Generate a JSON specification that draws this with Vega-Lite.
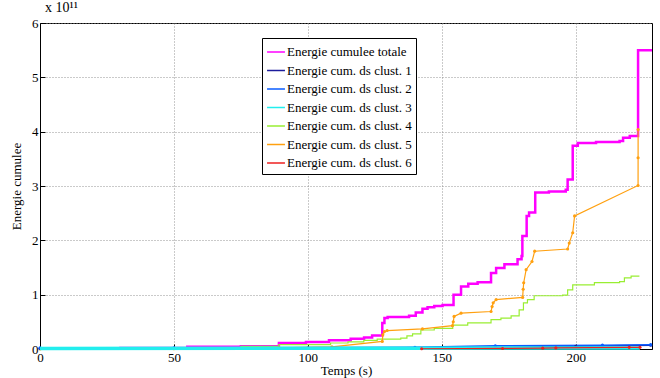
{
  "$schema": "https://vega.github.io/schema/vega-lite/v6.json",
  "autosize": {"type": "none"},
  "width": 612,
  "height": 326,
  "padding": {"left": 40, "top": 23, "right": 8, "bottom": 29},
  "background": "white",
  "title": {"text": "x 10¹¹", "anchor": "start", "frame": "group", "font": "Liberation Serif", "fontSize": 14, "fontWeight": "normal", "color": "black", "offset": 2, "dx": 5},
  "config": {
    "view": {"stroke": "black", "strokeWidth": 1},
    "axis": {
      "domainColor": "black", "tickColor": "black", "labelColor": "black", "titleColor": "black",
      "labelFont": "Liberation Serif", "labelFontSize": 13, "titleFont": "Liberation Serif", "titleFontSize": 13, "titleFontWeight": "normal",
      "grid": true, "gridDash": [1, 2], "gridColor": "#8a8a8a", "gridOpacity": 0.9, "tickSize": -5
    },
    "legend": {
      "orient": "none", "legendX": 222, "legendY": 15, "strokeColor": "black", "fillColor": "white",
      "padding": 4, "rowPadding": 1.5, "labelFont": "Liberation Serif", "labelFontSize": 13, "labelColor": "black",
      "symbolType": "stroke", "symbolSize": 320, "symbolStrokeWidth": 1.5, "labelOffset": 1
    }
  },
  "datasets": {
    "total": [
      {"serie": "Energie cumulee totale", "t": 0, "e": 0.01},
      {"serie": "Energie cumulee totale", "t": 30, "e": 0.02},
      {"serie": "Energie cumulee totale", "t": 55, "e": 0.04},
      {"serie": "Energie cumulee totale", "t": 75, "e": 0.05},
      {"serie": "Energie cumulee totale", "t": 89.2, "e": 0.11},
      {"serie": "Energie cumulee totale", "t": 99.3, "e": 0.13},
      {"serie": "Energie cumulee totale", "t": 107.9, "e": 0.16},
      {"serie": "Energie cumulee totale", "t": 116, "e": 0.19},
      {"serie": "Energie cumulee totale", "t": 121, "e": 0.21},
      {"serie": "Energie cumulee totale", "t": 124, "e": 0.25},
      {"serie": "Energie cumulee totale", "t": 127.8, "e": 0.48},
      {"serie": "Energie cumulee totale", "t": 128.6, "e": 0.57},
      {"serie": "Energie cumulee totale", "t": 129.8, "e": 0.59},
      {"serie": "Energie cumulee totale", "t": 137.8, "e": 0.61},
      {"serie": "Energie cumulee totale", "t": 140.3, "e": 0.67},
      {"serie": "Energie cumulee totale", "t": 142.8, "e": 0.74},
      {"serie": "Energie cumulee totale", "t": 144.7, "e": 0.77},
      {"serie": "Energie cumulee totale", "t": 147.2, "e": 0.79},
      {"serie": "Energie cumulee totale", "t": 150.3, "e": 0.81},
      {"serie": "Energie cumulee totale", "t": 154.4, "e": 1.0},
      {"serie": "Energie cumulee totale", "t": 157.2, "e": 1.15},
      {"serie": "Energie cumulee totale", "t": 159.9, "e": 1.2},
      {"serie": "Energie cumulee totale", "t": 163.4, "e": 1.23},
      {"serie": "Energie cumulee totale", "t": 168.4, "e": 1.4},
      {"serie": "Energie cumulee totale", "t": 170.3, "e": 1.49},
      {"serie": "Energie cumulee totale", "t": 173.4, "e": 1.56},
      {"serie": "Energie cumulee totale", "t": 178.3, "e": 1.65},
      {"serie": "Energie cumulee totale", "t": 179.8, "e": 1.71},
      {"serie": "Energie cumulee totale", "t": 180.1, "e": 2.08},
      {"serie": "Energie cumulee totale", "t": 181.7, "e": 2.45},
      {"serie": "Energie cumulee totale", "t": 182.6, "e": 2.51},
      {"serie": "Energie cumulee totale", "t": 184.9, "e": 2.88},
      {"serie": "Energie cumulee totale", "t": 190, "e": 2.9},
      {"serie": "Energie cumulee totale", "t": 196.3, "e": 2.93},
      {"serie": "Energie cumulee totale", "t": 197.0, "e": 3.12},
      {"serie": "Energie cumulee totale", "t": 198.9, "e": 3.74},
      {"serie": "Energie cumulee totale", "t": 200.8, "e": 3.79},
      {"serie": "Energie cumulee totale", "t": 207.6, "e": 3.81},
      {"serie": "Energie cumulee totale", "t": 216.4, "e": 3.83},
      {"serie": "Energie cumulee totale", "t": 217.7, "e": 3.89},
      {"serie": "Energie cumulee totale", "t": 220.2, "e": 3.92},
      {"serie": "Energie cumulee totale", "t": 223.3, "e": 5.5},
      {"serie": "Energie cumulee totale", "t": 228.5, "e": 5.5}
    ],
    "c4": [
      {"serie": "Energie cum. ds clust. 4", "t": 0, "e": 0.0},
      {"serie": "Energie cum. ds clust. 4", "t": 58, "e": 0.02},
      {"serie": "Energie cum. ds clust. 4", "t": 75, "e": 0.05},
      {"serie": "Energie cum. ds clust. 4", "t": 89.2, "e": 0.08},
      {"serie": "Energie cum. ds clust. 4", "t": 108.5, "e": 0.11},
      {"serie": "Energie cum. ds clust. 4", "t": 115, "e": 0.13},
      {"serie": "Energie cum. ds clust. 4", "t": 120.9, "e": 0.16},
      {"serie": "Energie cum. ds clust. 4", "t": 125.9, "e": 0.18},
      {"serie": "Energie cum. ds clust. 4", "t": 134.7, "e": 0.2},
      {"serie": "Energie cum. ds clust. 4", "t": 137, "e": 0.24},
      {"serie": "Energie cum. ds clust. 4", "t": 139.1, "e": 0.28},
      {"serie": "Energie cum. ds clust. 4", "t": 142.2, "e": 0.35},
      {"serie": "Energie cum. ds clust. 4", "t": 147.2, "e": 0.38},
      {"serie": "Energie cum. ds clust. 4", "t": 154.1, "e": 0.44},
      {"serie": "Energie cum. ds clust. 4", "t": 159.7, "e": 0.48},
      {"serie": "Energie cum. ds clust. 4", "t": 168.4, "e": 0.54},
      {"serie": "Energie cum. ds clust. 4", "t": 172.1, "e": 0.57},
      {"serie": "Energie cum. ds clust. 4", "t": 175.9, "e": 0.61},
      {"serie": "Energie cum. ds clust. 4", "t": 178.9, "e": 0.72},
      {"serie": "Energie cum. ds clust. 4", "t": 180.5, "e": 0.85},
      {"serie": "Energie cum. ds clust. 4", "t": 182, "e": 0.91},
      {"serie": "Energie cum. ds clust. 4", "t": 184.5, "e": 0.98},
      {"serie": "Energie cum. ds clust. 4", "t": 195.1, "e": 0.99},
      {"serie": "Energie cum. ds clust. 4", "t": 197, "e": 1.09},
      {"serie": "Energie cum. ds clust. 4", "t": 198.9, "e": 1.18},
      {"serie": "Energie cum. ds clust. 4", "t": 207, "e": 1.22},
      {"serie": "Energie cum. ds clust. 4", "t": 216.4, "e": 1.24},
      {"serie": "Energie cum. ds clust. 4", "t": 218.2, "e": 1.31},
      {"serie": "Energie cum. ds clust. 4", "t": 220.7, "e": 1.34},
      {"serie": "Energie cum. ds clust. 4", "t": 223.8, "e": 1.34}
    ],
    "c5": [
      {"serie": "Energie cum. ds clust. 5", "t": 0, "e": 0.0},
      {"serie": "Energie cum. ds clust. 5", "t": 50, "e": 0.005},
      {"serie": "Energie cum. ds clust. 5", "t": 89.2, "e": 0.02},
      {"serie": "Energie cum. ds clust. 5", "t": 109, "e": 0.04},
      {"serie": "Energie cum. ds clust. 5", "t": 127.8, "e": 0.14},
      {"serie": "Energie cum. ds clust. 5", "t": 128.0, "e": 0.26},
      {"serie": "Energie cum. ds clust. 5", "t": 128.6, "e": 0.32},
      {"serie": "Energie cum. ds clust. 5", "t": 129.6, "e": 0.34},
      {"serie": "Energie cum. ds clust. 5", "t": 142.8, "e": 0.37},
      {"serie": "Energie cum. ds clust. 5", "t": 154.0, "e": 0.43},
      {"serie": "Energie cum. ds clust. 5", "t": 154.3, "e": 0.5},
      {"serie": "Energie cum. ds clust. 5", "t": 154.6, "e": 0.6},
      {"serie": "Energie cum. ds clust. 5", "t": 157.2, "e": 0.66},
      {"serie": "Energie cum. ds clust. 5", "t": 168.4, "e": 0.69},
      {"serie": "Energie cum. ds clust. 5", "t": 168.8, "e": 0.78},
      {"serie": "Energie cum. ds clust. 5", "t": 169.2, "e": 0.85},
      {"serie": "Energie cum. ds clust. 5", "t": 170.3, "e": 0.91},
      {"serie": "Energie cum. ds clust. 5", "t": 180.2, "e": 0.95},
      {"serie": "Energie cum. ds clust. 5", "t": 180.4, "e": 1.1},
      {"serie": "Energie cum. ds clust. 5", "t": 180.6, "e": 1.22},
      {"serie": "Energie cum. ds clust. 5", "t": 181.5, "e": 1.46},
      {"serie": "Energie cum. ds clust. 5", "t": 183.7, "e": 1.61},
      {"serie": "Energie cum. ds clust. 5", "t": 184.7, "e": 1.8},
      {"serie": "Energie cum. ds clust. 5", "t": 197.0, "e": 1.84},
      {"serie": "Energie cum. ds clust. 5", "t": 197.6, "e": 1.95},
      {"serie": "Energie cum. ds clust. 5", "t": 198.9, "e": 2.14},
      {"serie": "Energie cum. ds clust. 5", "t": 199.6, "e": 2.45},
      {"serie": "Energie cum. ds clust. 5", "t": 223.3, "e": 3.01},
      {"serie": "Energie cum. ds clust. 5", "t": 223.31, "e": 3.52},
      {"serie": "Energie cum. ds clust. 5", "t": 223.32, "e": 4.04}
    ],
    "low": [
      {"serie": "Energie cum. ds clust. 1", "t": 0, "e": 0.01},
      {"serie": "Energie cum. ds clust. 1", "t": 100, "e": 0.015},
      {"serie": "Energie cum. ds clust. 1", "t": 170, "e": 0.03},
      {"serie": "Energie cum. ds clust. 1", "t": 200, "e": 0.05},
      {"serie": "Energie cum. ds clust. 1", "t": 228, "e": 0.07},
      {"serie": "Energie cum. ds clust. 2", "t": 0, "e": 0.02},
      {"serie": "Energie cum. ds clust. 2", "t": 50, "e": 0.02},
      {"serie": "Energie cum. ds clust. 2", "t": 140, "e": 0.03},
      {"serie": "Energie cum. ds clust. 2", "t": 170, "e": 0.06},
      {"serie": "Energie cum. ds clust. 2", "t": 210, "e": 0.07},
      {"serie": "Energie cum. ds clust. 2", "t": 228, "e": 0.08},
      {"serie": "Energie cum. ds clust. 3", "t": 0, "e": 0.01},
      {"serie": "Energie cum. ds clust. 3", "t": 140, "e": 0.015},
      {"serie": "Energie cum. ds clust. 3", "t": 224, "e": 0.02},
      {"serie": "Energie cum. ds clust. 6", "t": 142.5, "e": 0.005},
      {"serie": "Energie cum. ds clust. 6", "t": 172.7, "e": 0.01},
      {"serie": "Energie cum. ds clust. 6", "t": 187.7, "e": 0.015},
      {"serie": "Energie cum. ds clust. 6", "t": 192.6, "e": 0.02},
      {"serie": "Energie cum. ds clust. 6", "t": 220, "e": 0.03},
      {"serie": "Energie cum. ds clust. 6", "t": 224, "e": 0.03}
    ]
  },
  "encoding": {
    "x": {"field": "t", "type": "quantitative", "scale": {"domain": [0, 228.5], "nice": false, "zero": false},
          "axis": {"title": "Temps (s)", "values": [0, 50, 100, 150, 200], "labelPadding": 7, "titlePadding": 0, "labelFlush": false}},
    "y": {"field": "e", "type": "quantitative", "scale": {"domain": [0, 6], "nice": false},
          "axis": {"title": "Energie cumulee", "values": [0, 1, 2, 3, 4, 5, 6], "labelPadding": 7, "titlePadding": 8}},
    "color": {"field": "serie", "type": "nominal",
      "scale": {"domain": ["Energie cumulee totale", "Energie cum. ds clust. 1", "Energie cum. ds clust. 2", "Energie cum. ds clust. 3", "Energie cum. ds clust. 4", "Energie cum. ds clust. 5", "Energie cum. ds clust. 6"],
                "range": ["#ff00ff", "#1c1c9c", "#0a5cff", "#22eeee", "#99ee33", "#ffa010", "#ee2020"]},
      "legend": {"symbolType": "stroke", "title": null, "labelFont": "Liberation Serif", "labelFontSize": 13, "rowPadding": 1.5, "symbolSize": 320}}
  },
  "layer": [
    {"data": {"name": "total"}, "mark": {"type": "line", "interpolate": "step-after", "strokeWidth": 2.5}},
    {"data": {"name": "c4"}, "mark": {"type": "line", "interpolate": "step-after", "strokeWidth": 1.2}},
    {"data": {"name": "c5"}, "mark": {"type": "line", "strokeWidth": 1.2, "point": {"filled": true, "size": 10}}},
    {"data": {"name": "low"}, "transform": [{"filter": "datum.serie === 'Energie cum. ds clust. 1' || datum.serie === 'Energie cum. ds clust. 2'"}], "mark": {"type": "line", "strokeWidth": 1.5, "point": {"filled": true, "size": 10}}},
    {"data": {"name": "low"}, "transform": [{"filter": "datum.serie === 'Energie cum. ds clust. 3'"}], "mark": {"type": "line", "strokeWidth": 3.5}},
    {"data": {"name": "low"}, "transform": [{"filter": "datum.serie === 'Energie cum. ds clust. 6'"}], "mark": {"type": "line", "strokeWidth": 1.2, "point": {"filled": true, "size": 10}}}
  ]
}
